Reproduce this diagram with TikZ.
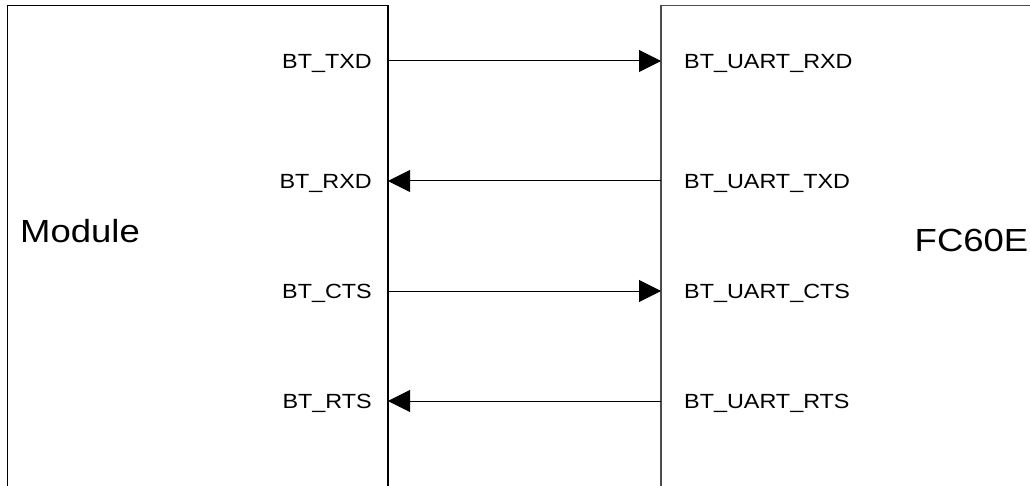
\documentclass[tikz,border=0pt]{standalone}
\usepackage{fontspec}
\setmainfont{Liberation Sans}
\usetikzlibrary{arrows.meta}
\newcommand{\wide}[1]{\scalebox{1.14}[1]{#1}}
\begin{document}
\begin{tikzpicture}[x=1pt,y=-1pt,
  pin/.style={font=\fontsize{20.5}{24}\selectfont,inner sep=0pt},
  chip/.style={font=\fontsize{32}{38}\selectfont,inner sep=0pt},
  sig/.style={line width=1pt,-{Triangle[length=22pt,width=22pt]}}]
\def\ml{7.5};
\def\mr{388};
\def\fl{661};
\def\top{5.5};
\def\bot{486};
\useasboundingbox (0,0) rectangle (1030,486);
\clip (0,0) rectangle (1030,486);
% boxes, cut off at the bottom and right
\draw[line width=1.2pt] (\ml,\bot+5) |- (\mr,\top) -- (\mr,\bot+5);
\draw[line width=1.2pt,black!70] (\fl,\bot+5) |- (1040,\top);
\node[chip,anchor=base west] (mod) at (20,243) {\wide{Module}};
\node[chip,anchor=base west] (fc) at (914.5,251.5) {\wide{FC60E}};
% pins of the module
\node[pin,anchor=base east] (txd) at (372,68.5) {\wide{BT\_TXD}};
\node[pin,anchor=base east] (rxd) at (372,188.5) {\wide{BT\_RXD}};
\node[pin,anchor=base east] (cts) at (372,298.5) {\wide{BT\_CTS}};
\node[pin,anchor=base east] (rts) at (372,408.5) {\wide{BT\_RTS}};
% pins of the FC60E
\node[pin,anchor=base west] (urxd) at (684,68.5) {\wide{BT\_UART\_RXD}};
\node[pin,anchor=base west] (utxd) at (684,188.5) {\wide{BT\_UART\_TXD}};
\node[pin,anchor=base west] (ucts) at (684,298.5) {\wide{BT\_UART\_CTS}};
\node[pin,anchor=base west] (urts) at (684,408.5) {\wide{BT\_UART\_RTS}};
% ends on the box edges
\coordinate (m1) at (\mr,61);
\coordinate (m2) at (\mr,181);
\coordinate (m3) at (\mr,291);
\coordinate (m4) at (\mr,401);
\coordinate (f1) at (\fl,61);
\coordinate (f2) at (\fl,181);
\coordinate (f3) at (\fl,291);
\coordinate (f4) at (\fl,401);
\draw[sig] (m1) -- (f1);
\draw[sig] (f2) -- (m2);
\draw[sig] (m3) -- (f3);
\draw[sig] (f4) -- (m4);
\end{tikzpicture}
\end{document}
